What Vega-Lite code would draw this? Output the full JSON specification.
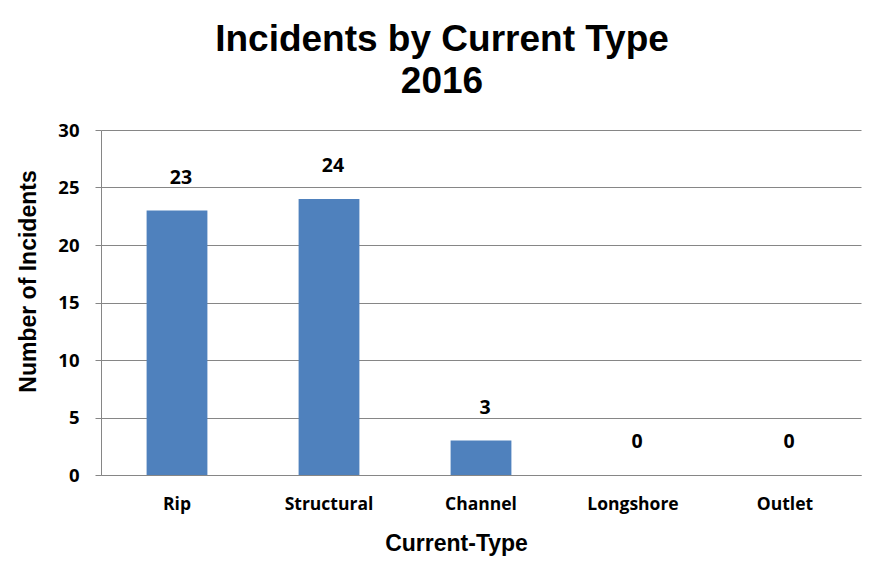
{
  "$schema": "https://vega.github.io/schema/vega-lite/v6.json",
  "width": 760,
  "height": 345,
  "autosize": "none",
  "padding": {"left": 101, "top": 130, "right": 23, "bottom": 100},
  "background": "white",
  "title": {
    "text": ["Incidents by Current Type", "2016"],
    "font": "Liberation Sans",
    "fontSize": 37,
    "fontWeight": "bold",
    "color": "black",
    "lineHeight": 42,
    "anchor": "middle",
    "dx": -39,
    "offset": 20
  },
  "data": {
    "values": [
      {"type": "Rip", "count": 23},
      {"type": "Structural", "count": 24},
      {"type": "Channel", "count": 3},
      {"type": "Longshore", "count": 0},
      {"type": "Outlet", "count": 0}
    ]
  },
  "encoding": {
    "x": {
      "field": "type",
      "type": "nominal",
      "sort": null,
      "scale": {"paddingInner": 0.6, "paddingOuter": 0.3},
      "axis": {
        "title": "Current-Type",
        "labelAngle": 0,
        "labelFont": "Open Sans",
        "labelFontSize": 17.5,
        "labelFontWeight": "bold",
        "labelColor": "black",
        "labelPadding": 20,
        "ticks": false,
        "domainColor": "#868686",
        "titleFont": "Liberation Sans",
        "titleFontSize": 23,
        "titleFontWeight": "bold",
        "titleColor": "black",
        "titlePadding": 20,
        "titleX": 355
      }
    },
    "y": {
      "field": "count",
      "type": "quantitative",
      "scale": {"domain": [0, 30]},
      "axis": {
        "title": "Number of Incidents",
        "values": [0, 5, 10, 15, 20, 25, 30],
        "labelFont": "Open Sans",
        "labelFontSize": 18.5,
        "labelFontWeight": "bold",
        "labelColor": "black",
        "labelPadding": 16,
        "tickSize": 6,
        "tickColor": "#868686",
        "domainColor": "#868686",
        "gridColor": "#868686",
        "titleFont": "Liberation Sans",
        "titleFontSize": 23,
        "titleFontWeight": "bold",
        "titleColor": "black",
        "titlePadding": 17,
        "titleY": 151
      }
    }
  },
  "layer": [
    {"mark": {"type": "bar", "color": "#4F81BD"}},
    {
      "mark": {"type": "text", "font": "Open Sans", "fontSize": 19.5, "fontWeight": "bold", "color": "black", "baseline": "alphabetic", "dx": 4, "dy": -27},
      "encoding": {"text": {"field": "count", "type": "quantitative"}}
    }
  ],
  "config": {"view": {"stroke": null}}
}
